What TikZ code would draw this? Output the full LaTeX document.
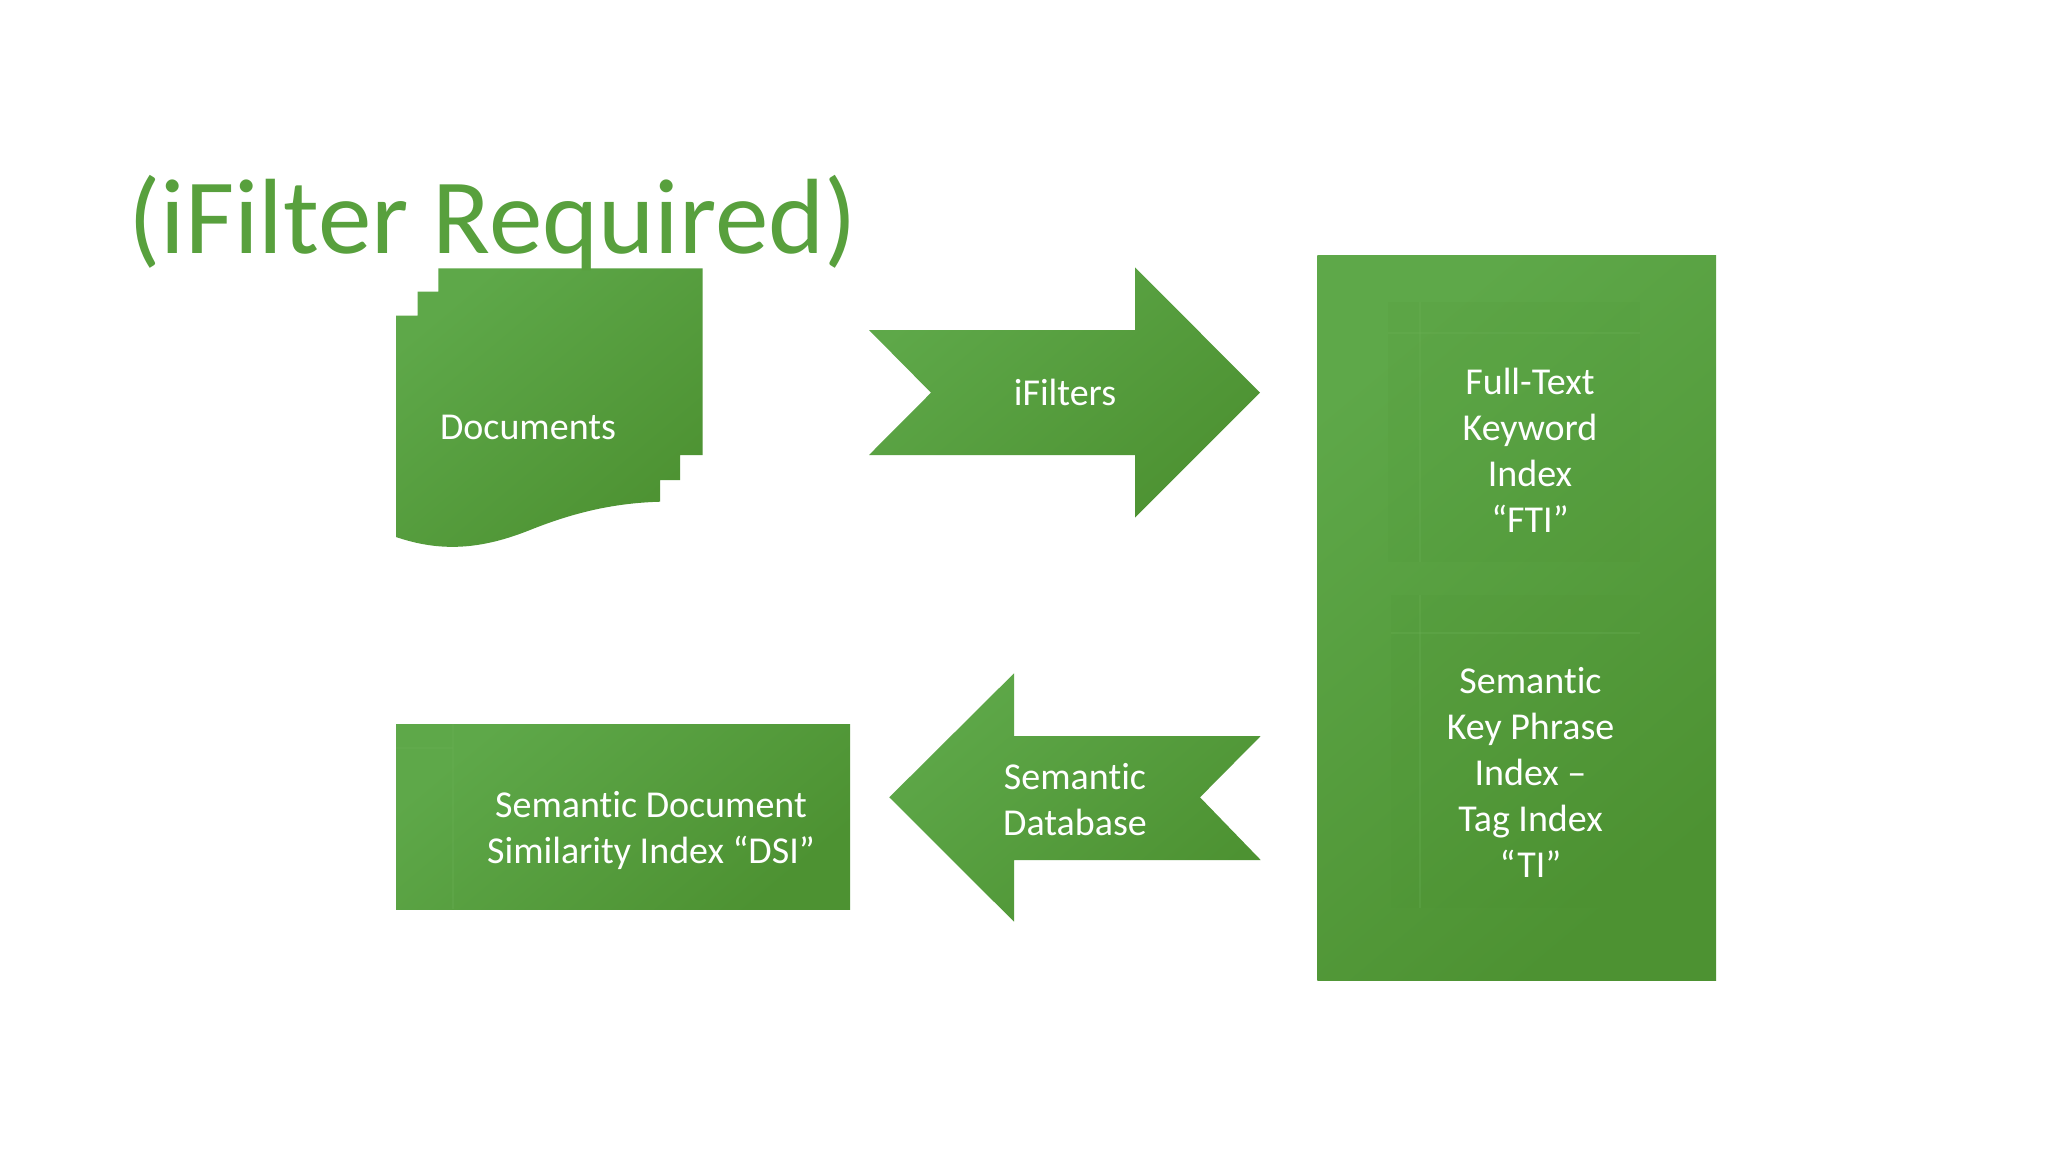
\documentclass[tikz,border=0pt]{standalone}
\usepackage{fontspec}
\setmainfont{Carlito}[Ligatures=NoCommon]
\definecolor{glight}{HTML}{5EA849}
\definecolor{gdark}{HTML}{4D9232}
\definecolor{gtitle}{HTML}{58A03D}
\definecolor{gline}{HTML}{6AB055}
\tikzset{
  greenfill/.style={shading=axis, top color=glight, bottom color=gdark, shading angle=40, draw=none},
  innerbox/.style={fill=gdark, fill opacity=0.10, draw=none},
  faint/.style={draw=gline, line width=0.6pt, opacity=0.3},
  lbl/.style={text=white, font=\fontsize{19}{23}\selectfont, align=center, inner sep=0pt},
  titletext/.style={text=gtitle, font=\fontsize{53.5}{60}\selectfont, inner sep=0pt}
}
\begin{document}
\begin{tikzpicture}[x=0.5pt,y=-0.5pt]
\useasboundingbox (0,0) rectangle (2048,1152);
\fill[white] (0,0) rectangle (2048,1152);

% Documents shape
\path[greenfill] (396,315.7) -- (417.7,315.7) -- (417.7,291.7) -- (438.3,291.7) -- (438.3,268.3)
  -- (702.7,268.3) -- (702.7,455) -- (680,455) -- (680,480) -- (660,480) -- (660,501.7)
  .. controls (615,503) and (575,512) .. (530,530)
  .. controls (480,550) and (440,552) .. (396,537) -- cycle;
\node[lbl, anchor=base] (docs) at (528,439) {Documents};

% iFilters arrow
\path[greenfill] (869,330) -- (1135,330) -- (1135,267.3) -- (1260,392.7) -- (1135,517.7)
  -- (1135,455) -- (869,455) -- (931,392.7) -- cycle;
\node[lbl, anchor=base] (ifil) at (1065,405) {iFilters};

% Big index container
\path[greenfill] (1317.3,255.7) rectangle (1716,980);
\path[innerbox] (1388,302) rectangle (1640,561.7);
\draw[faint] (1388,333) -- (1640,333);
\draw[faint] (1420,302) -- (1420,561.7);
\node[lbl] (fti) at (1530,450) {Full-Text\\Keyword\\Index\\“FTI”};
\path[innerbox] (1390.7,595) rectangle (1640,908);
\draw[faint] (1390.7,633) -- (1640,633);
\draw[faint] (1420,595) -- (1420,908);
\node[lbl] (ti) at (1530.5,772) {Semantic\\Key Phrase\\Index –\\Tag Index\\“TI”};

% Semantic Database arrow (left)
\path[greenfill] (1260.7,736) -- (1014,736) -- (1014,673.3) -- (889.3,797.3) -- (1014,921.7)
  -- (1014,860) -- (1260.7,860) -- (1200,797.3) -- cycle;
\node[lbl] (sdb) at (1075,800) {Semantic\\Database};

% DSI box
\path[greenfill] (396,724) rectangle (850,909);
\draw[faint] (396,748) -- (453,748);
\draw[faint] (453,724) -- (453,909);
\node[lbl] (dsi) at (651,830) {Semantic Document\\Similarity Index “DSI”};

% Title
\node[titletext, anchor=base west] (title) at (128,253) {(iFilter Required)};
\end{tikzpicture}
\end{document}
